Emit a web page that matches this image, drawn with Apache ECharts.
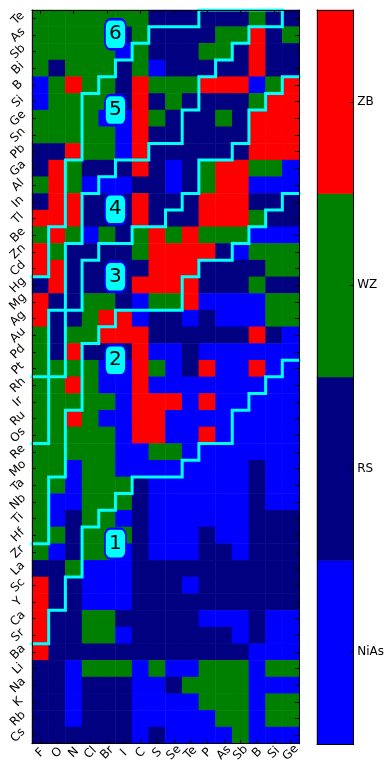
<!DOCTYPE html>
<html><head><meta charset="utf-8">
<script src="https://cdn.jsdelivr.net/npm/echarts@6/dist/echarts.min.js"></script>
<style>html,body{margin:0;padding:0;background:#fff}#c{width:387px;height:765px}</style>
</head><body><div id="c"></div>
<script>
// ---- data ----
const xCategories = ['F','O','N','Cl','Br','I','C','S','Se','Te','P','As','Sb','B','Si','Ge'];
const yCategories = ['Te','As','Sb','Bi','B','Si','Ge','Sn','Pb','Ga','Al','In','Tl','Be','Zn','Cd','Hg','Mg','Ag','Au','Pd','Pt','Rh','Ir','Ru','Os','Re','Mo','Ta','Nb','Ti','Hf','Zr','La','Sc','Y','Ca','Sr','Ba','Li','Na','K','Rb','Cs'];
const phases = ['ZB','WZ','RS','NiAs'];
const phaseColors = ['#ff0000','#008000','#000080','#0000ff'];
// r = ZB, g = WZ, n = RS, b = NiAs ; one string per row (top to bottom), one letter per column
const phaseCode = {r:0, g:1, n:2, b:3};
const structureRows = [
 'gggggggnnnnnngnn', // Te
 'gggggngnnnnggrng', // As
 'gggggbgnnnggnrnn', // Sb
 'gngggngbnnnnnrnn', // Bi
 'bgrggnrgggrrrbgr', // B
 'bggggnrngnnnngrr', // Si
 'ggggbbrgnnngnrrr', // Ge
 'gggggbrnnnnnnrrr', // Sn
 'nnrggbrnnnnnnrrr', // Pb
 'nrgnnnrnbngrrggb', // Ga
 'grgbbbnnbngrrbbb', // Al
 'nrrnnnrnnnrrrnnn', // In
 'rrrnnnrnnnrrrgnn', // Tl
 'grgbgngrgrgggbbb', // Be
 'rgnnnngrrrrnbggg', // Zn
 'rrnnnnnrrrnnnngg', // Cd
 'nrnnnnrrrrnnngnn', // Hg
 'rnnggnbggrbbbbgg', // Mg
 'rnngrrbnnbnbbbgg', // Ag
 'gnggrrrnnnnnnrnb', // Au
 'gnrnnnrbbnbbbbbb', // Pd
 'ggggbbrgbnrbbrbb', // Pt
 'ggrgbbrbbbbbbbbb', // Rh
 'gggggbrrrbrbbbbb', // Ir
 'ggrgbbrrbbbbbbbb', // Ru
 'gggggbrrbbrbbbbb', // Os
 'gggggbbggbbbbbbb', // Re
 'ggbggbbbbbbbbnbb', // Mo
 'ggbgggnbbbbbbnbb', // Ta
 'gbbgggnbbbbbbnbb', // Nb
 'gbnggbnbbbbbbnnn', // Ti
 'ggngggnbbbnbbnnn', // Hf
 'gbnggbnbbbnnbnnn', // Zr
 'nngbbbnnnnnnnnnn', // La
 'rnnbbbnnnbnnnnnn', // Sc
 'rnnbbbnnnnnnnnnn', // Y
 'rnnggnnnnnbbbnbb', // Ca
 'rnnggbnnnnnnbnbb', // Sr
 'rnnnnnnnnnnnnbbb', // Ba
 'nnbgggbgbbgggbgg', // Li
 'nnbnnnbbnggggbbb', // Na
 'nnbnnnbbbbgggbgg', // K
 'nnbnnnbbbbbggbgg', // Rb
 'nnnnnnbnbbbbgbbb'  // Cs
];
// region boundaries, in cell-edge units (column edge, row edge)
const boundary65 = [[15,0],[10,0],[10,1],[7,1],[7,2],[6,2],[6,3],[5,3],[5,4],[4,4],[4,5],[3,5],[3,9],[2,9],[2,13],[1,13],[1,16],[0,16]];
const boundary54 = [[15,0],[15,1],[13,1],[13,2],[12,2],[12,3],[11,3],[11,4],[10,4],[10,6],[9,6],[9,8],[7,8],[7,9],[5,9],[5,10],[4,10],[4,11],[3,11],[3,14],[2,14],[2,22],[0,22]];
const boundary43 = [[16,4],[15,4],[15,5],[14,5],[14,6],[13,6],[13,8],[12,8],[12,9],[10,9],[10,11],[9,11],[9,12],[8,12],[8,13],[6,13],[6,14],[4,14],[4,15],[3,15],[3,18],[1,18],[1,26],[0,26]];
const boundary32 = [[16,11],[15,11],[15,12],[14,12],[14,13],[13,13],[13,14],[12,14],[12,15],[10,15],[10,16],[9,16],[9,18],[5,18],[5,19],[4,19],[4,20],[3,20],[3,24],[2,24],[2,28],[1,28],[1,32],[0,32]];
const boundary21 = [[16,21],[15,21],[15,22],[14,22],[14,23],[13,23],[13,24],[12,24],[12,26],[10,26],[10,27],[9,27],[9,28],[6,28],[6,29],[5,29],[5,30],[4,30],[4,31],[3,31],[3,34],[2,34],[2,36],[1,36],[1,38],[0,38]];
const regionNames = ['1','2','3','4','5','6'];
const regionCols = [5, 5, 5, 5, 5, 5];
const regionRows = [32.0, 21.0, 16.0, 11.95, 6.0, 1.45];

// ---- build ----
const FONT = 'DejaVu Sans';
const cellData = [];
structureRows.forEach((row, yi) => {
  for (let xi = 0; xi < row.length; xi++) cellData.push([xi, yi, phaseCode[row[xi]]]);
});
const barCats = phases.slice().reverse();
const barData = barCats.map((p, i) => [0, i, phases.indexOf(p)]);

const axLine = {show:true, onZero:false, lineStyle:{color:'#000', width:1}};
const tick = {show:true, inside:true, length:4, alignWithLabel:true, lineStyle:{color:'#000', width:1}};
const noTick = {show:false};
const noLabel = {show:false};

const series = [];
series.push({type:'heatmap', xAxisIndex:0, yAxisIndex:0, data:cellData,
  itemStyle:{borderWidth:0}, emphasis:{disabled:true}, z:2});
[boundary65, boundary54, boundary43, boundary32, boundary21].forEach(b => {
  series.push({type:'line', xAxisIndex:2, yAxisIndex:2, data:b, symbol:'none', silent:true,
    lineStyle:{color:'#00ffff', width:3, join:'miter', cap:'square'}, z:5});
});
series.push({type:'scatter', xAxisIndex:2, yAxisIndex:2, silent:true,
  data: regionNames.map((n, i) => ({name:n, value:[regionCols[i], regionRows[i]]})),
  symbol:'roundRect', symbolSize:[21, 30],
  itemStyle:{color:'#00ffff', borderColor:'#0000ff', borderWidth:2, opacity:1},
  label:{show:true, position:'inside', formatter:p => p.name, fontFamily:FONT, fontSize:20, color:'#000'},
  z:6});
const barIndex = series.length;
series.push({type:'heatmap', xAxisIndex:3, yAxisIndex:3, data:barData,
  itemStyle:{borderWidth:0}, emphasis:{disabled:true}, z:2});

const option = {
  animation:false,
  backgroundColor:'#fff',
  grid:[
    {left:32, top:10, width:267, height:734},
    {left:317, top:10, width:37, height:734}
  ],
  visualMap:{type:'piecewise', show:false, dimension:2, seriesIndex:[0, barIndex],
    pieces: phases.map((p, i) => ({value:i, color:phaseColors[i]}))},
  xAxis:[
    {gridIndex:0, type:'category', data:xCategories, position:'bottom', z:10,
      axisLine:axLine, axisTick:tick, splitLine:{show:false},
      axisLabel:{interval:0, rotate:45, align:'center', verticalAlign:'middle', margin:9,
        fontFamily:FONT, fontSize:12, color:'#000'}},
    {gridIndex:0, type:'category', data:xCategories, position:'top', z:10,
      axisLine:axLine, axisTick:tick, axisLabel:noLabel, splitLine:{show:false}},
    {gridIndex:0, type:'value', min:0, max:16, show:false},
    {gridIndex:1, type:'category', data:['c'], position:'bottom', z:10,
      axisLine:axLine, axisTick:noTick, axisLabel:noLabel},
    {gridIndex:1, type:'category', data:['c'], position:'top', z:10,
      axisLine:axLine, axisTick:noTick, axisLabel:noLabel}
  ],
  yAxis:[
    {gridIndex:0, type:'category', data:yCategories, inverse:true, position:'left', z:10,
      axisLine:axLine, axisTick:tick, splitLine:{show:false},
      axisLabel:{interval:0, rotate:45, align:'center', verticalAlign:'middle', margin:14,
        fontFamily:FONT, fontSize:12, color:'#000'}},
    {gridIndex:0, type:'category', data:yCategories, inverse:true, position:'right', z:10,
      axisLine:axLine, axisTick:tick, axisLabel:noLabel, splitLine:{show:false}},
    {gridIndex:0, type:'value', min:0, max:44, inverse:true, show:false},
    {gridIndex:1, type:'category', data:barCats, position:'left', z:10,
      axisLine:axLine, axisTick:noTick, axisLabel:noLabel},
    {gridIndex:1, type:'category', data:barCats, position:'right', z:10,
      axisLine:axLine, axisTick:tick,
      axisLabel:{margin:3.5, fontFamily:FONT, fontSize:12, color:'#000'}}
  ],
  series: series
};
const chart = echarts.init(document.getElementById('c'));
chart.setOption(option);
</script></body></html>
